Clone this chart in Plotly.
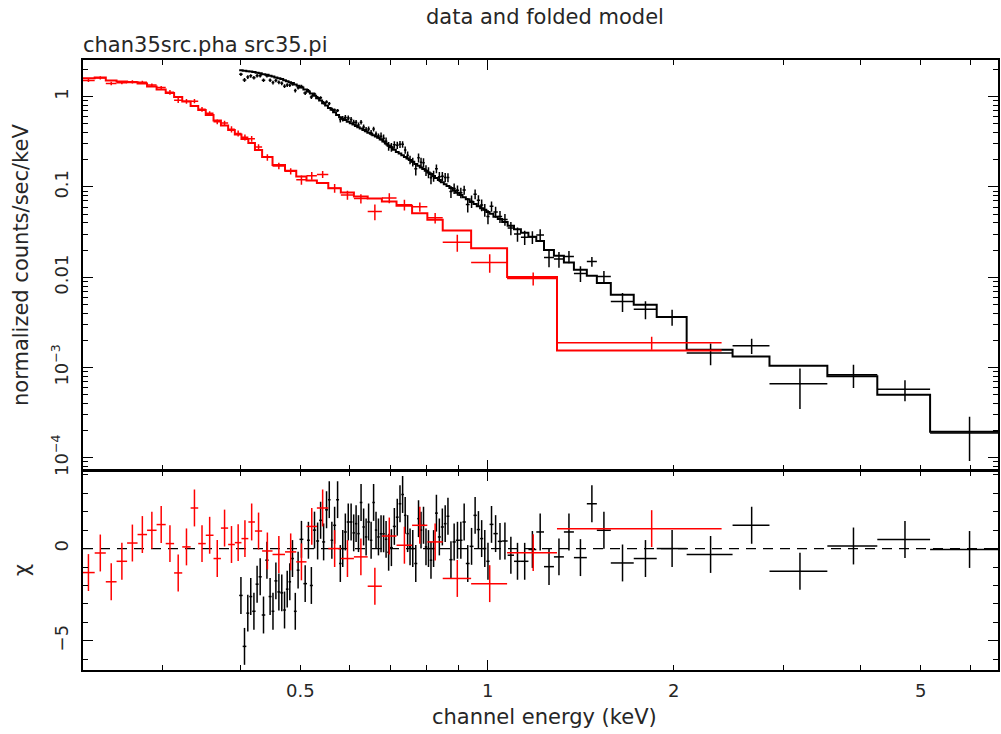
import math
import numpy as np
import plotly.graph_objects as go

# ---------------- data ----------------
# black spectrum: bin edges (keV), folded model, data (counts/s/keV), fractional error, chi
black_edges = [0.3986, 0.4038, 0.4093, 0.4138, 0.4184, 0.4236, 0.4284, 0.4334, 0.4391, 0.4446,
               0.4495, 0.4542, 0.4593, 0.4644, 0.4693, 0.4740, 0.4787, 0.4832, 0.4883, 0.4934,
               0.4986, 0.5058, 0.5126, 0.5181, 0.5239, 0.5303, 0.5362, 0.5422, 0.5483, 0.5541,
               0.5595, 0.5648, 0.5711, 0.5774, 0.5828, 0.5879, 0.5941, 0.6008, 0.6068, 0.6124,
               0.6177, 0.6234, 0.6296, 0.6354, 0.6413, 0.6473, 0.6533, 0.6594, 0.6651, 0.6714,
               0.6780, 0.6843, 0.6906, 0.6974, 0.7049, 0.7128, 0.7203, 0.7274, 0.7345, 0.7414,
               0.7479, 0.7548, 0.7632, 0.7718, 0.7790, 0.7862, 0.7935, 0.8008, 0.8083, 0.8158,
               0.8242, 0.8330, 0.8423, 0.8517, 0.8603, 0.8694, 0.8796, 0.8903, 0.9015, 0.9128,
               0.9241, 0.9373, 0.9507, 0.9624, 0.9744, 0.9857, 0.9972, 1.0093, 1.0238, 1.0404,
               1.0575, 1.0793, 1.1051, 1.1337, 1.1657, 1.2003, 1.2351, 1.2814, 1.3297, 1.3800,
               1.4478, 1.5026, 1.5825, 1.7230, 1.8763, 2.0968, 2.4862, 2.8510, 3.5338, 4.2533,
               5.1735, 6.8051]

black_model = [1.969, 1.940, 1.920, 1.900, 1.881, 1.848, 1.820, 1.778, 1.747, 1.703,
               1.673, 1.635, 1.602, 1.566, 1.522, 1.484, 1.447, 1.414, 1.365, 1.323,
               1.267, 1.201, 1.142, 1.088, 1.023, 0.960, 0.908, 0.845, 0.799, 0.750,
               0.715, 0.674, 0.629, 0.593, 0.571, 0.552, 0.528, 0.509, 0.491, 0.475,
               0.460, 0.444, 0.428, 0.414, 0.400, 0.388, 0.374, 0.362, 0.351, 0.335,
               0.319, 0.304, 0.289, 0.275, 0.259, 0.2445, 0.2342, 0.2243, 0.2142, 0.2062,
               0.1985, 0.1900, 0.1792, 0.1716, 0.1647, 0.1578, 0.1515, 0.1451, 0.1389, 0.1327,
               0.1257, 0.1195, 0.1127, 0.1074, 0.1023, 0.0973, 0.0917, 0.0865, 0.0815, 0.0771,
               0.0733, 0.0681, 0.0647, 0.0613, 0.0583, 0.0558, 0.0529, 0.0505, 0.0469, 0.0442,
               0.0410, 0.0372, 0.0340, 0.0311, 0.0281, 0.0253, 0.0201, 0.0173, 0.0146, 0.0121,
               0.0104, 0.00863, 0.00640, 0.00496, 0.00363, 0.00158, 0.00133, 0.00105, 0.000799, 0.000501,
               0.000194]

black_data = [1.769, 1.529, 1.651, 1.702, 1.625, 1.705, 1.709, 1.522, 1.703, 1.526,
              1.434, 1.515, 1.444, 1.408, 1.309, 1.347, 1.338, 1.382, 1.170, 1.258,
              1.296, 1.098, 1.165, 0.990, 1.069, 0.978, 0.971, 0.859, 0.875, 0.839,
              0.729, 0.712, 0.704, 0.559, 0.571, 0.587, 0.581, 0.560, 0.520, 0.520,
              0.486, 0.522, 0.463, 0.432, 0.440, 0.400, 0.439, 0.387, 0.366, 0.364,
              0.347, 0.321, 0.283, 0.2765, 0.293, 0.290, 0.2968, 0.2966, 0.2566, 0.2246,
              0.2005, 0.1900, 0.1589, 0.2105, 0.1878, 0.1856, 0.1534, 0.1451, 0.1266, 0.1327,
              0.1595, 0.1300, 0.1312, 0.1277, 0.1274, 0.0891, 0.0963, 0.0919, 0.0866, 0.0926,
              0.0638, 0.0694, 0.0833, 0.0714, 0.0633, 0.0558, 0.0471, 0.0611, 0.0530, 0.0470,
              0.0437, 0.0351, 0.0302, 0.0277, 0.0279, 0.0294, 0.01655, 0.01590, 0.01697, 0.01103,
              0.01495, 0.01017, 0.00540, 0.00442, 0.00363, 0.001454, 0.001749, 0.000663, 0.000833, 0.000575,
              0.000189]

black_relerr = [0.04, 0.04, 0.04, 0.04, 0.04, 0.04, 0.04, 0.04, 0.04, 0.04,
                0.042, 0.042, 0.042, 0.042, 0.042, 0.042, 0.042, 0.042, 0.042, 0.042,
                0.045, 0.045, 0.045, 0.045, 0.045, 0.045, 0.045, 0.045, 0.045, 0.045,
                0.045, 0.045, 0.045, 0.07, 0.07, 0.07, 0.07, 0.07, 0.07, 0.07,
                0.07, 0.07, 0.07, 0.07, 0.07, 0.07, 0.07, 0.07, 0.07, 0.11,
                0.11, 0.11, 0.11, 0.11, 0.11, 0.11, 0.11, 0.11, 0.11, 0.11,
                0.11, 0.11, 0.14, 0.14, 0.14, 0.14, 0.14, 0.14, 0.14, 0.14,
                0.14, 0.14, 0.14, 0.14, 0.14, 0.14, 0.14, 0.14, 0.14, 0.14,
                0.16, 0.16, 0.16, 0.16, 0.16, 0.16, 0.16, 0.16, 0.16, 0.16,
                0.16, 0.16, 0.16, 0.16, 0.16, 0.18, 0.18, 0.18, 0.18, 0.18,
                0.18, 0.18, 0.2, 0.2, 0.2, 0.25, 0.25, 0.3, 0.3, 0.3,
                0.5]

black_chi = [-2.54, -5.3, -3.5, -2.6, -3.4, -1.93, -1.53, -3.6, -0.63, -2.6,
             -3.4, -1.75, -2.35, -2.4, -3.33, -2.2, -1.8, -0.54, -3.4, -1.17,
             0.5, -1.9, 0.45, -2.0, 1.0, 0.41, 1.53, 0.36, 2.1, 2.65,
             0.45, 1.26, 2.65, -0.81, 0.0, 0.9, 1.44, 1.44, 0.85, 1.35,
             0.81, 2.5, 1.17, 0.63, 1.44, 0.45, 2.5, 1.0, 0.63, 0.8,
             0.8, 0.5, -0.2, 0.05, 1.2, 1.7, 2.43, 2.93, 1.8, 0.81,
             0.09, 0.0, -0.81, 1.62, 1.0, 1.26, 0.09, 0.0, -0.63, 0.0,
             1.92, 0.63, 1.17, 1.35, 1.75, -0.6, 0.36, 0.45, 0.45, 1.44,
             -0.81, 0.12, 1.8, 1.03, 0.54, 0.0, -0.69, 1.31, 0.81, 0.39,
             0.41, -0.36, -0.69, -0.69, -0.05, 0.9, -0.98, -0.45, 0.9, -0.49,
             2.43, 0.99, -0.78, -0.54, 0.0, -0.32, 1.26, -1.23, 0.14, 0.49,
             -0.05]

# red spectrum
red_edges = [0.2225, 0.2332, 0.2430, 0.2529, 0.2630, 0.2734, 0.2832, 0.2934, 0.3035, 0.3131,
             0.3227, 0.3329, 0.3424, 0.3521, 0.3624, 0.3725, 0.3826, 0.3922, 0.4020, 0.4124,
             0.4226, 0.4340, 0.4511, 0.4725, 0.4926, 0.5117, 0.5318, 0.5548, 0.5812, 0.6101,
             0.6421, 0.6768, 0.7146, 0.7571, 0.8012, 0.8482, 0.9425, 1.077, 1.296, 2.387]

red_model = [1.598, 1.631, 1.511, 1.473, 1.443, 1.400, 1.297, 1.201, 1.099, 0.992,
             0.885, 0.789, 0.713, 0.627, 0.545, 0.480, 0.428, 0.382, 0.340, 0.307,
             0.257, 0.215, 0.1756, 0.1518, 0.1303, 0.1177, 0.1110, 0.0970, 0.0867, 0.0783,
             0.0748, 0.0690, 0.0618, 0.0513, 0.0433, 0.0329, 0.0210, 0.01005, 0.00155]

red_data = [1.515, 1.615, 1.402, 1.432, 1.460, 1.443, 1.348, 1.263, 1.117, 0.913,
            0.890, 0.893, 0.725, 0.654, 0.527, 0.512, 0.436, 0.392, 0.355, 0.342,
            0.277, 0.213, 0.1711, 0.1496, 0.1200, 0.1332, 0.1379, 0.0970, 0.0816, 0.0744,
            0.0534, 0.0756, 0.0634, 0.0603, 0.0455, 0.0244, 0.01462, 0.00970, 0.001885]

red_relerr = [0.04, 0.04, 0.04, 0.04, 0.04, 0.04, 0.04, 0.04, 0.06, 0.06,
              0.06, 0.06, 0.06, 0.06, 0.06, 0.06, 0.08, 0.08, 0.08, 0.08,
              0.08, 0.08, 0.08, 0.08, 0.11, 0.11, 0.11, 0.11, 0.11, 0.11,
              0.14, 0.14, 0.14, 0.14, 0.14, 0.16, 0.16, 0.16, 0.2]

red_chi = [-1.3, -0.24, -1.8, -0.69, 0.3, 0.76, 0.99, 1.3, 0.27, -1.32,
           0.09, 2.2, 0.27, 0.72, -0.54, 1.11, 0.22, 0.32, 0.54, 1.44,
           0.95, -0.13, -0.32, -0.18, -0.72, 1.2, 2.2, 0.0, -0.54, -0.45,
           -2.04, 0.68, 0.18, 1.26, 0.36, -1.62, -1.9, -0.22, 1.08]

x_tick_labels = [0.5, 1, 2, 5]
y_tick_vals = [1e-4, 1e-3, 0.01, 0.1, 1]
y_tick_text = ["10<sup>\u22124</sup>", "10<sup>\u22123</sup>", "0.01", "0.1", "1"]
chi_tick_vals = [-5, 0]
chi_tick_text = ["\u22125", "0"]

# ---------------- figure ----------------
FONT = "DejaVu Sans"
FS = 18       # tick labels
FT = 21       # titles
TXT = "#262626"
RED = "#ff0000"
BLK = "#000000"

X_RANGE = [0.2233, 6.656]
Y_RANGE = [7.43e-5, 2.55]
CHI_RANGE = [-6.58, 4.23]
SPLIT = 200 / 610
GAP = 0.5 / 610   # the two frame lines between the panels partly overlap


def bins(edges):
    e = np.array(edges, dtype=float)
    lo, hi = e[:-1], e[1:]
    c = 0.5 * (lo + hi)
    return lo, hi, c


fig = go.Figure()


def add_set(edges, model, data, relerr, chi, color):
    lo, hi, c = bins(edges)
    model = np.array(model)
    err = np.array(relerr) * model
    ex = dict(type="data", symmetric=False, array=hi - c, arrayminus=c - lo,
              color=color, thickness=1.5, width=0)
    # data with errors (top panel)
    fig.add_trace(go.Scatter(
        x=c, y=data, mode="markers", marker=dict(size=1, color=color),
        error_x=ex, error_y=dict(type="data", array=err, color=color, thickness=1.5, width=0),
        xaxis="x2", yaxis="y", showlegend=False, hoverinfo="skip"))
    # folded model as histogram
    fig.add_trace(go.Scatter(
        x=list(edges), y=list(model) + [model[-1]], mode="lines",
        line=dict(shape="hv", color=color, width=2),
        xaxis="x2", yaxis="y", showlegend=False, hoverinfo="skip"))
    # residuals (bottom panel)
    fig.add_trace(go.Scatter(
        x=c, y=chi, mode="markers", marker=dict(size=1, color=color),
        error_x=ex, error_y=dict(type="constant", value=1, color=color, thickness=1.5, width=0),
        xaxis="x", yaxis="y2", showlegend=False, hoverinfo="skip"))


add_set(black_edges, black_model, black_data, black_relerr, black_chi, BLK)
add_set(red_edges, red_model, red_data, red_relerr, red_chi, RED)

x_minor = [0.3, 0.4, 0.5, 0.6, 0.7, 0.8, 0.9, 2, 3, 4, 5, 6]
y_minor = []
for d in [1e-5, 1e-4, 1e-3, 1e-2, 1e-1, 1]:
    for m in range(2, 10):
        v = m * d
        if Y_RANGE[0] <= v <= Y_RANGE[1]:
            y_minor.append(v)

common = dict(showline=True, linecolor=BLK, linewidth=2, mirror="ticks",
              ticks="inside", ticklen=10, tickwidth=1.3, tickcolor=BLK,
              showgrid=False, zeroline=False,
              tickfont=dict(family=FONT, size=FS, color=TXT))
minor_common = dict(ticks="inside", ticklen=5, tickwidth=1.3, tickcolor=BLK, showgrid=False)

fig.update_layout(
    width=1001, height=734,
    margin=dict(l=83, r=1, t=60, b=64),
    paper_bgcolor="white", plot_bgcolor="white",
    font=dict(family=FONT, size=FS, color=TXT),
    xaxis=dict(domain=[0, 1], anchor="y2", type="log",
               range=[math.log10(X_RANGE[0]), math.log10(X_RANGE[1])],
               tickmode="array", tickvals=[1], showticklabels=False,
               minor=dict(tickmode="array", tickvals=x_minor, **minor_common),
               **common),
    xaxis2=dict(domain=[0, 1], anchor="y", type="log",
                range=[math.log10(X_RANGE[0]), math.log10(X_RANGE[1])],
                tickmode="array", tickvals=[1], showticklabels=False,
                minor=dict(tickmode="array", tickvals=x_minor, **minor_common),
                **common),
    yaxis=dict(domain=[SPLIT + GAP, 1], anchor="x2", type="log",
               range=[math.log10(Y_RANGE[0]), math.log10(Y_RANGE[1])],
               tickmode="array", tickvals=y_tick_vals, ticktext=y_tick_text,
               tickangle=-90, ticklabelstandoff=6,
               minor=dict(tickmode="array", tickvals=y_minor, **minor_common),
               **common),
    yaxis2=dict(domain=[0, SPLIT - GAP], anchor="x", range=CHI_RANGE,
                tickmode="array", tickvals=chi_tick_vals, ticktext=chi_tick_text,
                tickangle=-90, ticklabelstandoff=6,
                minor=dict(dtick=1, tick0=0, **minor_common),
                **common),
)

# zero line in residual panel
fig.add_shape(type="line", xref="paper", x0=0, x1=1, yref="y2", y0=0, y1=0,
              line=dict(color=BLK, width=1.2, dash="10px,7px"), layer="below")

ann = []
for v in x_tick_labels:
    ann.append(dict(x=math.log10(v), xref="x", y=0, yref="paper", yshift=-20,
                    text=str(v), showarrow=False, xanchor="center", yanchor="middle",
                    font=dict(family=FONT, size=FS, color=TXT)))
ann += [
    dict(x=0.5, xref="paper", y=1, yref="paper", yshift=43, xshift=4,
         text="data and folded model", showarrow=False, xanchor="center", yanchor="middle",
         font=dict(family=FONT, size=FT, color=TXT)),
    dict(x=0, xref="paper", y=1, yref="paper", yshift=15, xshift=-2,
         text="chan35src.pha src35.pi", showarrow=False, xanchor="left", yanchor="middle",
         font=dict(family=FONT, size=FT, color=TXT)),
    dict(x=0.5, xref="paper", y=0, yref="paper", yshift=-47, xshift=4,
         text="channel energy (keV)", showarrow=False, xanchor="center", yanchor="middle",
         font=dict(family=FONT, size=FT, color=TXT)),
    dict(x=0, xref="paper", y=(SPLIT + 1) / 2, yref="paper", xshift=-62,
         text="normalized counts/sec/keV", showarrow=False, textangle=-90,
         xanchor="center", yanchor="middle", font=dict(family=FONT, size=FT, color=TXT)),
    dict(x=0, xref="paper", y=SPLIT / 2, yref="paper", xshift=-61,
         text="\u03c7", showarrow=False, textangle=-90,
         xanchor="center", yanchor="middle", font=dict(family=FONT, size=FT, color=TXT)),
]
fig.update_layout(annotations=ann)

fig.write_html("out.html")
